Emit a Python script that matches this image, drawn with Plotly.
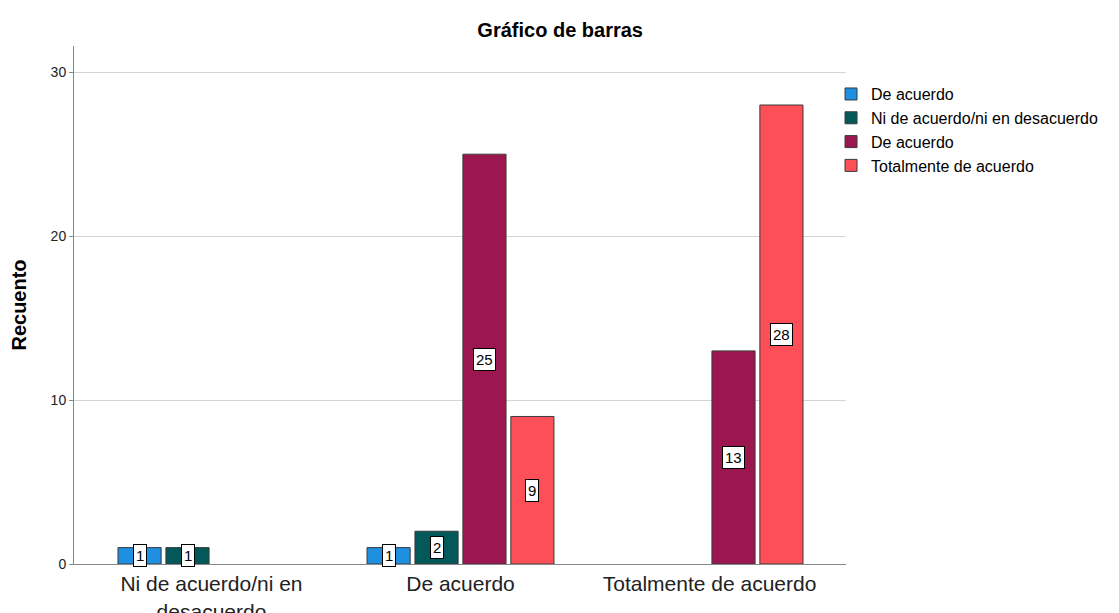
import plotly.graph_objects as go

categories = ["Ni de acuerdo/ni en<br>desacuerdo", "De acuerdo", "Totalmente de acuerdo"]
series_names = ["De acuerdo", "Ni de acuerdo/ni en desacuerdo", "De acuerdo", "Totalmente de acuerdo"]
serie_1 = [1, 1, None]
serie_2 = [1, 2, None]
serie_3 = [None, 25, 13]
serie_4 = [None, 9, 28]
series_values = [serie_1, serie_2, serie_3, serie_4]
colors = ["#1E8FE1", "#03595A", "#9C1750", "#FD4F57"]

x_idx = list(range(len(categories)))
bargap = 0.23
groupgap = 0.1
n_series = len(series_values)
slot = (1 - bargap) / n_series

FONT = "Liberation Sans, Arial, sans-serif"

fig = go.Figure()
for name, vals, col in zip(series_names, series_values, colors):
    fig.add_trace(go.Bar(
        x=x_idx, y=vals, name=name,
        marker=dict(color=col, line=dict(color="#3a3a3a", width=1)),
        hoverinfo="x+y+name",
    ))

annotations = []
for j, vals in enumerate(series_values):
    for i, v in enumerate(vals):
        if v is None:
            continue
        annotations.append(dict(
            x=i + (j - (n_series - 1) / 2) * slot, y=v / 2, xref="x", yref="y",
            text=str(v), showarrow=False,
            font=dict(family=FONT, size=15, color="#000000"),
            bgcolor="#ffffff", bordercolor="#000000", borderwidth=1, borderpad=2,
        ))

fig.update_layout(
    width=1111, height=605,
    paper_bgcolor="#ffffff", plot_bgcolor="#ffffff",
    font=dict(family=FONT, color="#000000"),
    margin=dict(l=66, r=273, t=38, b=49, autoexpand=False),
    barmode="group", bargap=bargap, bargroupgap=groupgap,
    title=dict(text="<b>Gráfico de barras</b>", x=0.497, xref="container",
               y=0.9636, yanchor="middle", yref="container",
               font=dict(family=FONT, size=20, color="#000000")),
    xaxis=dict(
        tickmode="array", tickvals=x_idx, ticktext=categories,
        range=[-0.552, 2.548], showgrid=False, zeroline=False,
        showline=True, linecolor="#888888", linewidth=1, ticks="",
        ticklabelstandoff=1, automargin=False,
        tickfont=dict(family=FONT, size=21, color="#222222"),
    ),
    yaxis=dict(
        range=[0, 31.6], tickvals=[0, 10, 20, 30],
        showgrid=True, gridcolor="#d4d4d4", gridwidth=1, zeroline=False,
        showline=True, linecolor="#888888", linewidth=1,
        ticks="outside", ticklen=4, tickcolor="#888888", automargin=False,
        tickfont=dict(family=FONT, size=14, color="#222222"),
        title=dict(text="<b>Recuento</b>", font=dict(family=FONT, size=20, color="#000000"), standoff=25),
    ),
    legend=dict(
        x=0.9806, xanchor="left", y=0.94, yanchor="top",
        font=dict(family=FONT, size=16, color="#000000"),
        bgcolor="rgba(0,0,0,0)", tracegroupgap=0, itemwidth=30,
    ),
    annotations=annotations,
    showlegend=True,
)

fig.write_html("out.html")
